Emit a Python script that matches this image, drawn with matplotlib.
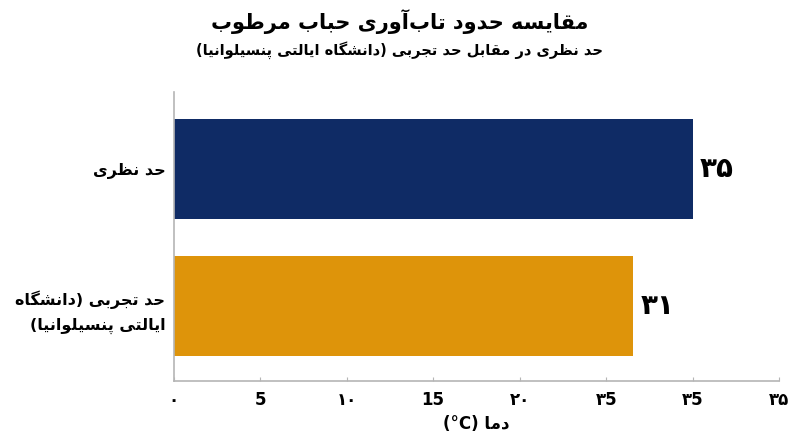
import re
import matplotlib
matplotlib.use("Agg")
import matplotlib.pyplot as plt
import numpy as np

# ---------------- data ----------------
title = "مقایسه حدود تاب\u200cآوری حباب مرطوب"
subtitle = "حد نظری در مقابل حد تجربی (دانشگاه ایالتی پنسیلوانیا)"
categories = ["حد نظری", "حد تجربی (دانشگاه\nایالتی پنسیلوانیا)"]
values = [35, 31]
colors = ["#0f2b65", "#de940a"]
xtick_labels = ["۰", "5", "۱۰", "15", "۲۰", "۳5", "۳5", "۳۵"]
xlabel = "دما (°C)"

# ---------------- minimal Arabic/Persian shaping + bidi ----------------
DUAL = {0x0628: 0xFE8F, 0x062A: 0xFE95, 0x062B: 0xFE99, 0x062C: 0xFE9D, 0x062D: 0xFEA1,
        0x062E: 0xFEA5, 0x0633: 0xFEB1, 0x0634: 0xFEB5, 0x0635: 0xFEB9, 0x0636: 0xFEBD,
        0x0637: 0xFEC1, 0x0638: 0xFEC5, 0x0639: 0xFEC9, 0x063A: 0xFECD, 0x0641: 0xFED1,
        0x0642: 0xFED5, 0x0644: 0xFEDD, 0x0645: 0xFEE1, 0x0646: 0xFEE5, 0x0647: 0xFEE9,
        0x067E: 0xFB56, 0x0686: 0xFB7A, 0x06A9: 0xFB8E, 0x06AF: 0xFB92}
RIGHT = {0x0627: 0xFE8D, 0x0622: 0xFE81, 0x062F: 0xFEA9, 0x0630: 0xFEAB, 0x0631: 0xFEAD,
         0x0632: 0xFEAF, 0x0698: 0xFB8A, 0x0648: 0xFEED}
YEH = (0xFEEF, 0xFEF0, 0xFEF3, 0xFEF4)  # Persian yeh via Arabic forms


def _is_letter(c):
    o = ord(c)
    return o in DUAL or o in RIGHT or o == 0x06CC


def _is_dual(c):
    o = ord(c)
    return o in DUAL or o == 0x06CC


def shape(s):
    ch = list(s)
    n = len(ch)
    out = []
    i = 0
    while i < n:
        c = ch[i]
        o = ord(c)
        if not _is_letter(c):
            out.append(c)
            i += 1
            continue
        cp = i > 0 and _is_dual(ch[i - 1])
        if o == 0x0644 and i + 1 < n and ord(ch[i + 1]) in (0x0627, 0x0622):
            base = 0xFEFB if ord(ch[i + 1]) == 0x0627 else 0xFEF5
            out.append(chr(base + (1 if cp else 0)))
            i += 2
            continue
        cn = _is_dual(c) and i + 1 < n and _is_letter(ch[i + 1])
        if _is_dual(c):
            if o == 0x06CC:
                forms = YEH
            else:
                b = DUAL[o]
                forms = (b, b + 1, b + 2, b + 3)
            if cp and cn:
                f = forms[3]
            elif cp:
                f = forms[1]
            elif cn:
                f = forms[2]
            else:
                f = forms[0]
        else:
            b = RIGHT[o]
            f = b + 1 if cp else b
        out.append(chr(f))
        i += 1
    return "".join(out)


def visual(s):
    lines = []
    for line in s.split("\n"):
        sh = shape(line).replace("\u200c", "")
        toks = re.findall(r"[A-Za-z0-9°.]+|.", sh)
        toks.reverse()
        mirror = {"(": ")", ")": "("}
        lines.append("".join(mirror.get(t, t) for t in toks))
    return "\n".join(lines)


def fa_num(v):
    return str(v).translate(str.maketrans("0123456789", "۰۱۲۳۴۵۶۷۸۹"))


# ---------------- plot ----------------
plt.rcParams["font.family"] = ["DejaVu Sans"]
fig = plt.figure(figsize=(8, 4.47), dpi=100)
ax = fig.add_axes([0.217, 0.148, 0.757, 0.646])

y = np.arange(len(categories))
ax.barh(y, values, height=0.73, color=colors)

xmax = max(values) * 7 / 6
ax.set_xlim(0, xmax)
ax.set_ylim(1.55, -0.56)
ax.set_xticks(np.linspace(0, xmax, len(xtick_labels)))
ax.set_xticklabels(xtick_labels, fontsize=12, weight="bold")
ax.set_yticks(y)
ax.set_yticklabels([visual(c) for c in categories], fontsize=11.5, weight="bold",
                   ha="right", multialignment="right", linespacing=1.75)
ax.tick_params(axis="x", direction="in", length=3, color="#b5b5b5", pad=7)
ax.tick_params(axis="y", length=0, pad=6)

for s in ["top", "right"]:
    ax.spines[s].set_visible(False)
for s in ["left", "bottom"]:
    ax.spines[s].set_color("#b5b5b5")
    ax.spines[s].set_linewidth(1.2)

for yi, v in zip(y, values):
    ax.annotate(fa_num(v), xy=(v, yi), xytext=(5, 0), textcoords="offset points",
                ha="left", va="center", fontsize=20, weight="bold")

fig.text(0.5, 1 - 22 / 447, visual(title), ha="center", va="center", fontsize=15, weight="bold")
fig.text(0.5, 1 - 50 / 447, visual(subtitle), ha="center", va="center", fontsize=10.5, weight="bold")
fig.text(476.5 / 800, 1 - 424 / 447, visual(xlabel), ha="center", va="center", fontsize=12, weight="bold")

fig.savefig("out.png", dpi=100, facecolor="white")
